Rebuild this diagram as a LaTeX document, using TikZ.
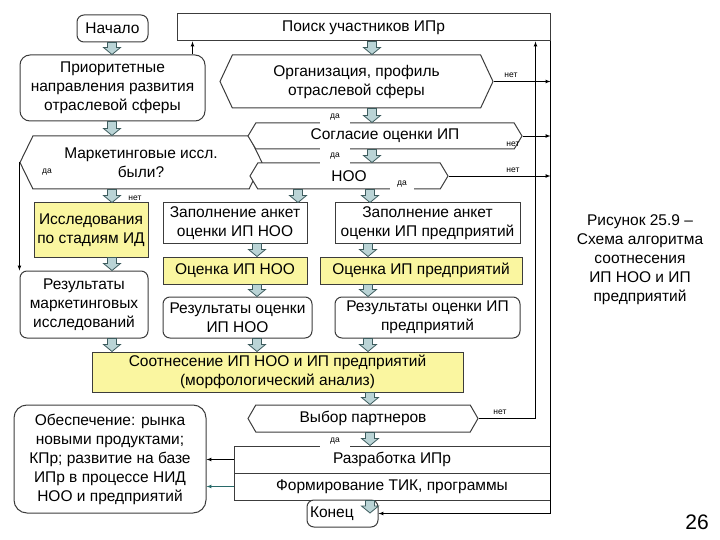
\documentclass[tikz,border=0pt]{standalone}
\usepackage{fontspec}
\setmainfont{Liberation Sans}
\usetikzlibrary{arrows,shapes.symbols,calc}
\definecolor{boxyellow}{RGB}{250,246,160}
\definecolor{arrfill}{RGB}{186,212,214}
\definecolor{arrline}{RGB}{62,92,94}
\definecolor{edge}{RGB}{60,60,60}
\definecolor{tealline}{RGB}{40,105,105}

\newcommand\txtfont{\fontsize{15.5}{19}\selectfont}
\newcommand\lblfont{\fontsize{8.5}{10}\selectfont}

% fat arrow between two nodes, #1 = x
\newcommand\blockarr[3]{%
  \filldraw[barrow] let \p1=(#2.south), \p2=(#3.north) in
    ({#1pt-4.5pt},\y1) -- ({#1pt+4.5pt},\y1) -- ({#1pt+4.5pt},{\y2+7pt})
    -- ({#1pt+8.5pt},{\y2+7pt}) -- (#1pt,\y2) -- ({#1pt-8.5pt},{\y2+7pt})
    -- ({#1pt-4.5pt},{\y2+7pt}) -- cycle;}

\tikzset{
  box/.style={draw=edge, line width=1pt, fill=white, align=center, inner sep=1pt, font=\txtfont},
  rbox/.style={box, rounded corners=7pt},
  ybox/.style={box, fill=boxyellow},
  hexbox/.style={box, signal, signal to=west and east, signal pointer angle=#1},
  hexbox/.default=120,
  conn/.style={black, line width=0.7pt},
  yesno/.style={font=\lblfont, fill=white, inner sep=1pt},
  barrow/.style={fill=arrfill, draw=arrline, line width=0.8pt},
}

\begin{document}
\begin{tikzpicture}[x=1pt, y=-1pt]
\useasboundingbox (0,0) rectangle (720,540);

% top row
\node[rbox, minimum width=71, minimum height=27] (nachalo) at (112.5,28.5) {Начало};
\node[box, minimum width=373, minimum height=27] (poisk) at (363.5,27.5) {Поиск участников ИПр};
\node[rbox, rounded corners=10pt, minimum width=185, minimum height=66] (prior) at (112.5,88) {Приоритетные\\направления развития\\отраслевой сферы};
\node[hexbox=130, minimum width=273, minimum height=53] (org) at (356.5,81.5) {Организация, профиль\\отраслевой сферы};

% decisions
\node[hexbox=128, minimum width=242, minimum height=53] (mark) at (141,162.5) {Маркетинговые иссл.\\были?};
\node[hexbox=118, minimum width=274, minimum height=26] (sogl) at (385,136) {Согласие оценки ИП};
\node[hexbox=118, minimum width=198, minimum height=26] (noo) at (349,176) {НОО};

% middle columns
\node[ybox, minimum width=114, minimum height=54] (issl) at (91,230) {Исследования\\по стадиям ИД};
\node[box, minimum width=144, minimum height=40] (zapnoo) at (235,223) {Заполнение анкет\\оценки ИП НОО};
\node[box, minimum width=185, minimum height=40] (zappr) at (427.5,223) {Заполнение анкет\\оценки ИП предприятий};
\node[ybox, minimum width=144, minimum height=27] (ocnoo) at (235,270.5) {Оценка ИП НОО};
\node[ybox, minimum width=202, minimum height=27] (ocpr) at (421,270.5) {Оценка ИП предприятий};
\node[rbox, minimum width=128, minimum height=67] (rezmark) at (84,304.5) {Результаты\\маркетинговых\\исследований};
\node[rbox, minimum width=149, minimum height=41] (reznoo) at (237.5,317.5) {Результаты оценки\\ИП НОО};
\node[rbox, minimum width=185, minimum height=41] (rezpr) at (427.5,317.5) {Результаты оценки ИП\\предприятий};
\node[ybox, minimum width=371, minimum height=40] (sootn) at (277.5,372) {Соотнесение ИП НОО и ИП предприятий\\(морфологический анализ)};

% bottom part
\node[hexbox, minimum width=230, minimum height=27] (vybor) at (363,418.5) {Выбор партнеров};
\node[box, minimum width=316, minimum height=27] (razr) at (392,459.5) {Разработка ИПр};
\node[box, minimum width=316, minimum height=27] (form) at (392,486.5) {Формирование ТИК, программы};
\node[rbox, minimum width=71, minimum height=27, text width=65, align=left] (konec) at (342.5,513.5) {Конец};
\node[rbox, rounded corners=13pt, minimum width=192, minimum height=108] (obesp) at (110,459) {Обеспечение: рынка\\новыми продуктами;\\КПр; развитие на базе\\ИПр в процессе НИД\\НОО и предприятий};
\coordinate (konecin) at (370,513);

% fat arrows
\foreach \px/\src/\dst in {112/nachalo/prior, 112/prior/mark, 372/poisk/org, 372/org/sogl,
    372/sogl/noo, 112/mark/issl, 298/noo/zapnoo, 370/noo/zappr, 257/zapnoo/ocnoo,
    257/ocnoo/reznoo, 257/reznoo/sootn, 368/zappr/ocpr, 368/ocpr/rezpr, 368/rezpr/sootn,
    112/issl/rezmark, 112/rezmark/sootn, 370/sootn/vybor, 370/vybor/razr, 370/form/konecin}
  \blockarr{\px}{\src}{\dst};

% thin connectors
\draw[conn,-latex] ([xshift=-13]prior.north east) -- ([xshift=-13]prior.north east |- poisk.south);
\draw[conn,-latex] (org.east) -- (org.east -| poisk.east);
\draw[conn,-latex] (sogl.east) -- (sogl.east -| poisk.east);
\draw[conn,-latex] (noo.east) -- (noo.east -| poisk.east);
\draw[conn,-latex] (poisk.south east) -- (poisk.south east |- konec.east) -- (konec.east);
\coordinate (back) at ([xshift=-15]poisk.south east);
\draw[conn,-latex] (vybor.east) -| (back);
\draw[conn,-latex] (mark.west) -- (mark.west |- rezmark.north);
\draw[conn,-latex] (razr.west) -- (razr.west -| obesp.east);
\draw[conn,-latex,tealline] (form.west) -- (form.west -| obesp.east);

% yes / no labels
\node[yesno, minimum width=30, minimum height=14] (da1) at (335,117) {да};
\node[yesno, minimum width=30, minimum height=22] (da2) at (335,156) {да};
\node[yesno, minimum width=24, minimum height=12] (da3) at (402,184) {да};
\node[yesno, fill=none] (da4) at (47,172) {да};
\node[yesno, minimum width=30, minimum height=12] (da5) at (335,441) {да};
\node[yesno, fill=none] (net1) at (511,75) {нет};
\node[yesno, fill=none] (net2) at (513,144) {нет};
\node[yesno, fill=none] (net3) at (513,170) {нет};
\node[yesno] (net4) at (135,198) {нет};
\node[yesno, fill=none] (net5) at (500,412) {нет};

% caption
\node[font=\txtfont, align=center] (caption) at (640,260) {Рисунок 25.9 –\\Схема алгоритма\\соотнесения\\ИП НОО и ИП\\предприятий};
\node[font=\fontsize{21}{24}\selectfont] (pnum) at (697,522) {26};
\end{tikzpicture}
\end{document}
